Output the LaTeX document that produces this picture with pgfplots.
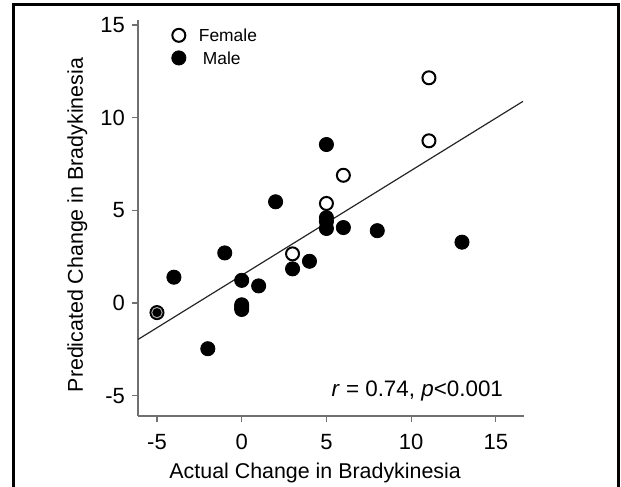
\documentclass[border=0pt]{standalone}
\usepackage{fontspec}
\setmainfont{Liberation Sans}
\usepackage{pgfplots}
\pgfplotsset{compat=1.18}
\definecolor{axisgray}{HTML}{707070}
\begin{document}
\begin{tikzpicture}
\useasboundingbox (0,0) rectangle (310.5bp,243.5bp);
% outer frame, open at the bottom
\draw[line width=1.5bp] (6.5bp,0) -- (6.5bp,241.2bp) -- (309bp,241.2bp) -- (309bp,0);
\begin{axis}[
  at={(69bp,35.5bp)}, anchor=south west,
  scale only axis, width=193bp, height=198bp,
  xmin=-6.12, xmax=16.66, ymin=-6.1, ymax=15.27,
  axis x line*=bottom, axis y line*=left,
  axis line style={axisgray, line width=0.6bp},
  every tick/.style={axisgray, line width=0.6bp},
  tick align=outside, major tick length=3bp,
  xtick={-5,0,5,10,15}, ytick={-5,0,5,10,15},
  /pgf/number format/assume math mode=true,
  ticklabel style={font=\fontsize{11bp}{13bp}\selectfont},
  xticklabel style={yshift=-2.5bp},
  xlabel={Actual Change in Bradykinesia},
  ylabel={Predicated Change in Bradykinesia},
  label style={font=\fontsize{10.7bp}{12bp}\selectfont},
  xlabel style={at={(axis description cs:0.459,-0.159)}, anchor=base},
  ylabel style={at={(axis description cs:-0.1425,0.482)}, anchor=base},
  reverse legend,
  legend image code/.code={\draw[#1] plot coordinates {(0bp,0bp)};},
  legend style={at={(axis cs:-3.71,14.41)}, anchor=north west, xshift=-3.75bp, yshift=3.75bp,
    draw=none, fill=none, inner sep=0pt,
    nodes={inner sep=0pt, text height=6.2bp, text depth=0bp},
    font=\fontsize{8.7bp}{10bp}\selectfont,
    row sep=4.5bp, column sep=6.5bp},
  legend cell align=left,
  clip=false,
]
% regression line
\addplot[black!85, line width=0.6bp, forget plot] coordinates {(-6.12,-1.97) (16.6,10.88)};
% male
\addplot[only marks, mark=*, mark size=3.55bp, mark options={fill=black, draw=black, line width=0.4bp}] coordinates {
  (-5,-0.52) (-4,1.39) (-2,-2.47) (-1,2.7) (0,1.22) (0,-0.1) (0,-0.22) (0,-0.35)
  (1,0.92) (2,5.46) (3,1.84) (4,2.25) (5,8.55) (5,4.6) (5,4.4) (5,4.02)
  (6,4.07) (8,3.9) (13,3.28)
};
\addlegendentry{\hspace{2bp}Male}
% female
\addplot[only marks, mark=*, mark size=3.25bp, mark options={fill=white, draw=black, line width=1bp}] coordinates {
  (3,2.65) (5,5.37) (6,6.89) (11.05,8.75) (11.05,12.15)
};
\addlegendentry{Female}
% female point overlapping a male one
\addplot[only marks, mark=o, mark size=2.6bp, mark options={draw=gray!70, line width=0.5bp}, forget plot] coordinates {(-5,-0.52)};
\node[anchor=base east, font=\fontsize{11.2bp}{13bp}\selectfont] at (axis description cs:0.9637,0.048) {\textit{r} = 0.74, \textit{p}<0.001};
\end{axis}
\end{tikzpicture}
\end{document}
